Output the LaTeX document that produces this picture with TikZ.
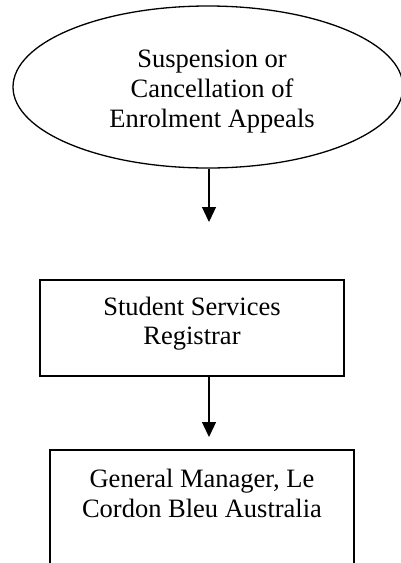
\documentclass[tikz,border=0pt]{standalone}
\usepackage{fontspec}
\setmainfont{Liberation Serif}
\usetikzlibrary{arrows.meta,shapes.geometric}
\begin{document}
\begin{tikzpicture}[x=1pt,y=-1pt,
  line width=1.3pt,
  lbl/.style={font=\fontsize{26.5}{29.5}\selectfont, inner sep=0pt, anchor=base},
  oval/.style={draw, ellipse, inner sep=0pt, minimum width=390pt, minimum height=162pt},
  boxnode/.style={draw, rectangle, inner sep=0pt},
  conn/.style={-{Triangle[width=14pt,length=15pt]}, line width=1.3pt}]
\useasboundingbox (0,0) rectangle (401,563);
\clip (0,0) rectangle (401,563);
\node[oval] (e) at (208,87) {};
\node[lbl] (e1) at (212,67) {Suspension or};
\node[lbl] (e2) at (212,97) {Cancellation of};
\node[lbl] (e3) at (212,127) {Enrolment Appeals};
\node[boxnode, minimum width=304pt, minimum height=96pt] (b1) at (192,328) {};
\node[lbl] (b1a) at (192,315) {Student Services};
\node[lbl] (b1b) at (192,344) {Registrar};
\node[boxnode, minimum width=304pt, minimum height=160pt] (b2) at (202,530) {};
\node[lbl] (b2a) at (202,487) {General Manager, Le};
\node[lbl] (b2b) at (202,517) {Cordon Bleu Australia};
\coordinate (t1) at (209,222);
\coordinate (t2) at (209,437);
\draw[conn] (e.south -| t1) -- (t1);
\draw[conn] (b1.south -| t2) -- (t2);
\end{tikzpicture}
\end{document}
